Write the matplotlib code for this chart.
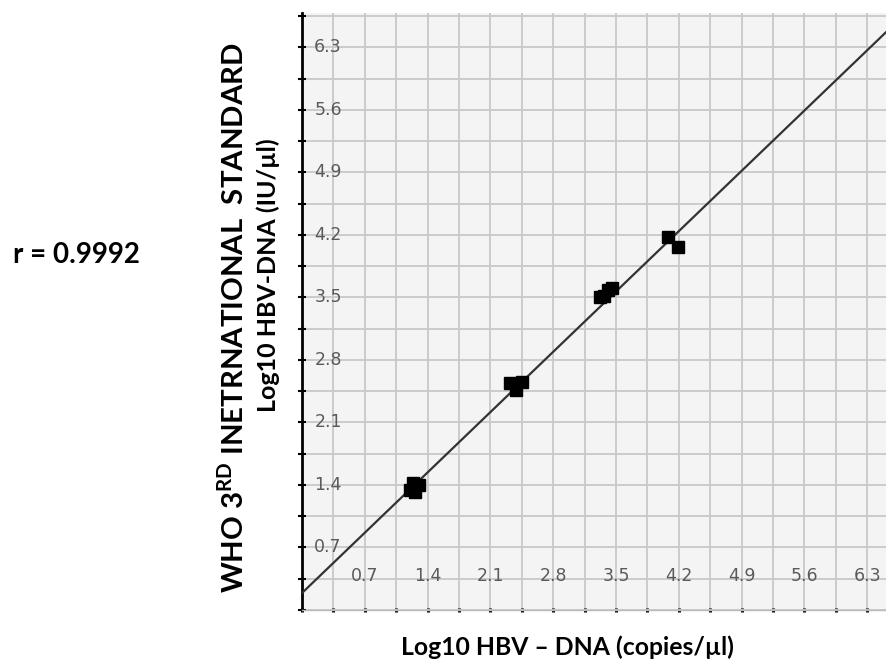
import matplotlib
matplotlib.use('Agg')
import matplotlib.pyplot as plt
from matplotlib.ticker import MultipleLocator

plt.rcParams['font.family'] = ['Lato', 'DejaVu Sans']
plt.rcParams['mathtext.fontset'] = 'custom'
plt.rcParams['mathtext.rm'] = 'Lato'
plt.rcParams['mathtext.bf'] = 'Lato:bold'

# Data
ref_x = [1.20, 1.30, 1.26, 1.24, 2.32, 2.45, 2.39, 3.32, 3.41, 3.46, 3.37, 4.08, 4.19]
ref_y = [1.34, 1.40, 1.32, 1.42, 2.54, 2.55, 2.46, 3.50, 3.58, 3.61, 3.52, 4.18, 4.06]
fit_x = [0.0, 6.51]
fit_y = [0.19, 6.47]
tick_values = [0.7, 1.4, 2.1, 2.8, 3.5, 4.2, 4.9, 5.6, 6.3]
tick_labels = ["0.7", "1.4", "2.1", "2.8", "3.5", "4.2", "4.9", "5.6", "6.3"]

fig = plt.figure(figsize=(8.86, 6.61), dpi=100)
ax = fig.add_axes([302/886, 51/661, 584/886, 597/661])
ax.set_xlim(0, 6.51)
ax.set_ylim(0, 6.685)
ax.set_facecolor('#f4f4f4')
ax.xaxis.set_major_locator(MultipleLocator(0.35))
ax.yaxis.set_major_locator(MultipleLocator(0.35))
ax.grid(True, color='#c8c8c8', lw=1.3, zorder=0)
ax.set_axisbelow(True)
ax.tick_params(labelbottom=False, labelleft=False)
ax.tick_params(axis='x', direction='inout', length=2.2, width=2.2, color='black')
ax.tick_params(axis='y', direction='inout', length=6, width=1.5, color='black')
for s in ('top', 'right'):
    ax.spines[s].set_visible(False)
ax.spines['left'].set_color('black')
ax.spines['left'].set_linewidth(2)
ax.spines['bottom'].set_color('#bbbbbb')
ax.spines['bottom'].set_linewidth(1)

for v, lbl in zip(tick_values, tick_labels):
    ax.text(v, 0.38, lbl, ha='center', va='center', color='#5a5a5a',
            fontsize=12.5, family='DejaVu Sans', zorder=2)
    ax.text(0.29, v, lbl, ha='center', va='center', color='#5a5a5a',
            fontsize=12.5, family='DejaVu Sans', zorder=2)

ax.plot(fit_x, fit_y, color='#333333', lw=1.6, zorder=3)
ax.plot(ref_x, ref_y, 's', ms=8.5, color='black', zorder=4)

fig.text(13/886, 1 - 255/661, 'r = 0.9992', ha='left', va='center',
         fontweight='bold', fontsize=20)
fig.text(567/886, 1 - 647/661, 'Log10 HBV – DNA (copies/µl)', ha='center',
         va='center', fontweight='bold', fontsize=17.8)
fig.text(233/886, 1 - 318/661, r'WHO 3$^{\mathbf{RD}}$ INETRNATIONAL  STANDARD',
         rotation=90, ha='center', va='center', fontweight='bold', fontsize=21.2)
fig.text(268/886, 1 - 275/661, 'Log10 HBV-DNA (IU/µl)', rotation=90,
         ha='center', va='center', fontweight='bold', fontsize=18)

fig.savefig('out.png', dpi=100, facecolor='white')
